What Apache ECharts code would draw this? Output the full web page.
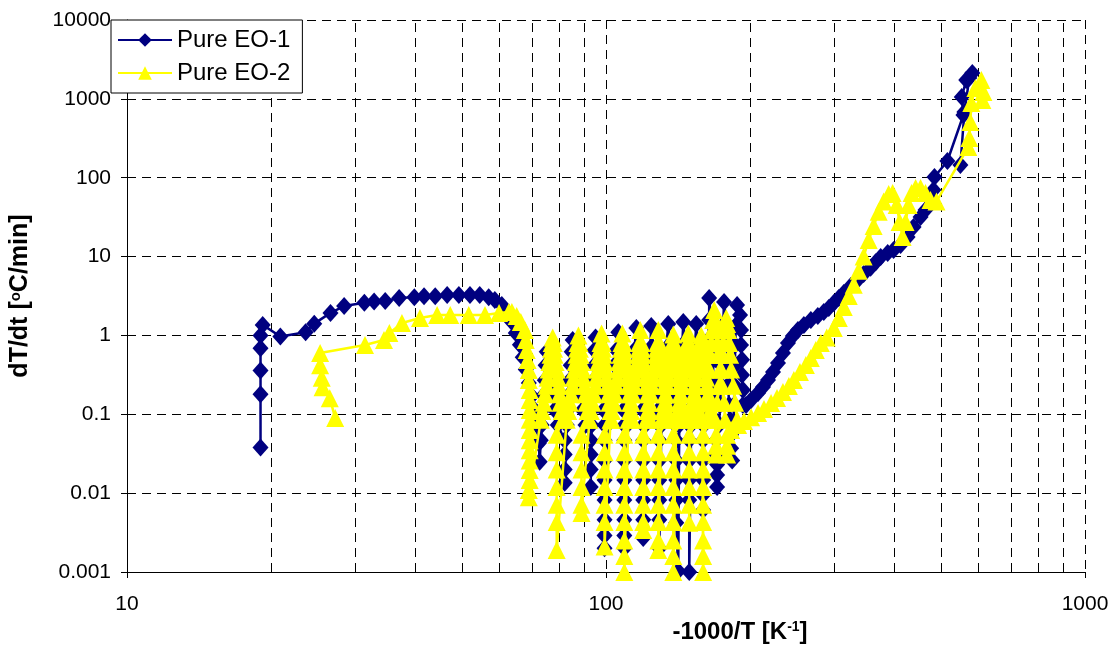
<!DOCTYPE html>
<html>
<head>
<meta charset="utf-8">
<script src="https://cdn.jsdelivr.net/npm/echarts@6/dist/echarts.min.js"></script>
<style>
html,body{margin:0;padding:0;background:#fff;}
#chart{width:1117px;height:649px;}
</style>
</head>
<body>
<div id="chart"></div>
<script>
const FONT = "'Liberation Sans', Arial, Helvetica, sans-serif";

const xTickLabels = ['10', '100', '1000'];
const yTickLabels = ['0.001', '0.01', '0.1', '1', '10', '100', '1000', '10000'];
const xMinorGrid = [20, 30, 40, 50, 60, 70, 80, 90, 200, 300, 400, 500, 600, 700, 800, 900];
const seriesNames = ['Pure EO-1', 'Pure EO-2'];

// ---------- Pure EO-1 ----------
const eo1Start = [[19.0,0.038],[19.0,0.18],[19.0,0.36],[19.0,0.69],[19.0,1.0],[19.2,1.36],[20.9,0.97],[23.6,1.1],[24.6,1.41],[26.6,1.93],[28.4,2.36],[31.3,2.6],[32.8,2.7],[34.6,2.74],[37.0,2.98],[39.8,3.06],[41.7,3.15],[44.0,3.15],[46.6,3.25],[49.3,3.25],[52.0,3.25],[54.5,3.25],[56.9,3.06],[58.6,2.81]];
const eo1Drop = [[60.6,2.43],[62.1,2.0],[63.6,1.48],[64.8,1.07],[66.1,0.76],[67.0,0.53],[68.0,0.37],[69.0,0.25],[70.0,0.17],[71.0,0.113],[71.7,0.073],[72.4,0.043],[72.7,0.025]];
const eo1Osc = [
 [73.1,0.047],[73.4,0.073],[73.8,0.113],[74.1,0.176],[74.5,0.27],[74.8,0.42],[75.2,0.62],[75.9,0.42],[76.6,0.27],[77.4,0.176],[78.1,0.113],[79.3,0.073],
 [82.0,0.047],[82.0,0.031],[82.0,0.02],[82.0,0.0135],[82.8,0.073],[83.2,0.113],[83.6,0.176],[84.0,0.27],[84.4,0.42],[84.8,0.62],[85.2,0.875],[86.0,0.62],[86.8,0.42],[87.6,0.27],[88.5,0.176],[89.3,0.113],[90.6,0.073],
 [92.9,0.047],[92.9,0.031],[92.9,0.02],[92.9,0.012],[93.3,0.073],[93.7,0.113],[94.2,0.176],[94.2,0.27],[94.6,0.42],[94.6,0.65],[95.1,0.94],[96.0,0.65],[96.9,0.42],[97.9,0.27],[98.4,0.176],[98.8,0.113],[99.3,0.073],
 [99.3,0.047],[99.3,0.026],[99.3,0.0147],[99.3,0.0082],[99.3,0.0046],[99.3,0.0029],[99.3,0.002],[100.7,0.073],[101.7,0.113],[102.7,0.176],[103.7,0.27],[104.1,0.42],[105.1,0.65],[106.1,1.1],[107.2,0.65],[107.7,0.42],[108.2,0.27],[108.7,0.176],[108.7,0.113],[109.2,0.073],
 [109.2,0.047],[109.2,0.026],[109.2,0.0147],[109.2,0.0082],[109.2,0.0046],[109.2,0.0029],[109.2,0.002],[110.8,0.073],[111.4,0.113],[112.4,0.176],[113.0,0.27],[114.1,0.42],[114.6,0.65],[115.7,1.24],[116.8,0.65],[117.4,0.42],[117.9,0.27],[118.5,0.176],[119.1,0.113],[119.6,0.073],
 [119.6,0.047],[119.6,0.026],[119.6,0.0147],[119.6,0.0082],[119.6,0.0046],[119.6,0.0027],[120.8,0.073],[121.4,0.113],[122.0,0.176],[122.6,0.27],[123.1,0.42],[123.7,0.69],[124.3,1.32],[125.5,0.69],[126.8,0.42],[127.4,0.27],[128.0,0.176],[128.6,0.113],[129.2,0.073],
 [129.2,0.047],[129.2,0.026],[129.2,0.0147],[129.2,0.0082],[129.2,0.0046],[129.2,0.002],[130.5,0.073],[131.1,0.113],[131.7,0.176],[132.3,0.27],[133.0,0.42],[133.6,0.69],[134.9,1.4],[136.2,0.69],[136.9,0.42],[137.5,0.27],[138.2,0.176],[138.8,0.113],[139.5,0.073],
 [140.2,0.047],[140.2,0.026],[140.2,0.0147],[140.2,0.0082],[140.2,0.0042],[141.5,0.00103],[142.2,0.073],[142.2,0.113],[142.9,0.176],[143.6,0.27],[143.6,0.42],[144.3,0.756],[145.0,1.48],[146.4,0.756],[147.1,0.42],[147.8,0.27],[148.5,0.176],[149.2,0.113],[149.2,0.073],
 [149.2,0.047],[149.2,0.026],[149.2,0.0147],[149.2,0.0082],[149.2,0.001],[150.6,0.073],[151.3,0.113],[152.1,0.176],[152.8,0.27],[152.8,0.42],[153.5,0.756],[154.3,1.4],[155.8,0.756],[156.5,0.42],[157.3,0.27],[158.0,0.176],[158.8,0.113],[159.5,0.073],
 [159.5,0.047],[159.5,0.026],[159.5,0.0147],[159.5,0.0095],[159.5,0.0061],[160.3,0.073],[161.1,0.113],[161.9,0.176],[161.9,0.27],[162.6,0.49],[163.4,0.875],[164.2,1.57],[164.2,2.98],[165.8,1.57],[166.6,0.875],[167.4,0.49],[167.4,0.27],[168.2,0.152],[169.0,0.085],
 [169.8,0.047],[169.8,0.031],[170.6,0.023],[170.6,0.017],[170.6,0.012],[172.2,0.073],[173.0,0.131],[173.9,0.235],[173.9,0.42],[174.7,0.756],[175.6,1.36],[176.4,2.65],[178.2,1.36],[179.0,0.756],[179.9,0.42],[179.9,0.235],[180.7,0.131],[181.6,0.085],
 [182.5,0.055],[182.5,0.037],[183.4,0.026],[184.3,0.073],[185.2,0.131],[185.2,0.235],[186.0,0.42],[186.0,0.756],[186.9,1.36],[187.8,2.43],[190.5,1.82],[191.4,1.17],[191.4,0.756],[192.3,0.49],[192.3,0.315],[193.2,0.203],[193.2,0.131]
];
const eo1Rise = [[196.1,0.131],[200.9,0.152],[207.7,0.186],[212.7,0.222],[217.9,0.272],[223.2,0.344],[228.6,0.447],[234.1,0.6],[239.8,0.8],[245.5,0.98],[251.6,1.17],[258.9,1.36],[267.7,1.57],[276.8,1.76],[284.9,1.98],[291.8,2.23],[298.9,2.58],[306.2,2.98],[313.6,3.45],[324.3,4.24],[335.3,5.05],[345.0,6.0],[356.8,7.2],[365.6,8.5],[374.5,9.9],[387.3,11.1],[398.5,12.1],[412.1,14.0],[426.2,17.7],[438.6,23.7],[453.6,31.7],[464.5,39],[475.8,52],[482.7,70],[485.0,102]];
const eo1Top = [[516.1,163],[557.4,624],[553.0,1057],[565.0,1733],[581.8,2128],[573.5,1839],[560.0,681],[549.4,145]];

// ---------- Pure EO-2 ----------
const eo2Start = [[27.2,0.09],[26.5,0.16],[25.6,0.22],[25.5,0.29],[25.3,0.42],[25.3,0.6],[31.4,0.756],[34.4,0.875],[35.3,1.07],[37.5,1.44],[40.9,1.66],[44.4,1.82],[47.3,1.82],[51.7,1.82],[55.9,1.82],[59.8,1.93],[62.7,1.98]];
const eo2Drop = [[63.6,1.98],[65.1,1.76],[66.4,1.48],[67.7,1.17],[68.0,0.875],[68.3,0.654],[68.6,0.488],[69.0,0.365],[69.0,0.272],[69.3,0.203],[69.3,0.152],[69.3,0.113],[69.3,0.085],[69.3,0.063],[69.3,0.047],[69.3,0.035],[69.3,0.026],[69.3,0.0197],[69.3,0.0147],[69.0,0.011],[69.0,0.0089]];
const eo2Osc = [
 [73.1,0.085],[73.6,0.11],[74.1,0.14],[74.6,0.18],[75.2,0.23],[75.5,0.29],[75.9,0.37],[76.2,0.46],[76.6,0.57],[76.8,0.68],[77.0,0.8],[77.4,0.94],[77.8,0.8],[77.9,0.68],[78.1,0.57],[78.5,0.46],[78.9,0.37],[79.3,0.29],[79.7,0.23],[80.0,0.18],[80.4,0.14],[80.8,0.11],[81.2,0.085],
 [78.9,0.055],[78.9,0.033],[78.9,0.02],[78.9,0.012],[78.9,0.0071],[78.9,0.0043],[78.9,0.0019],
 [82.8,0.085],[83.4,0.11],[84.0,0.14],[84.6,0.18],[85.2,0.23],[85.6,0.29],[86.0,0.37],[86.4,0.46],[86.8,0.57],[87.0,0.68],[87.2,0.8],[87.6,1.0],[88.0,0.8],[88.2,0.68],[88.5,0.57],[88.9,0.46],[89.3,0.37],[89.7,0.29],[90.2,0.23],[90.6,0.18],[91.1,0.14],[91.5,0.11],[91.9,0.085],
 [88.9,0.055],[88.9,0.033],[88.9,0.02],[88.9,0.012],[88.9,0.0071],[88.9,0.0056],
 [92.4,0.085],[93.0,0.11],[93.7,0.14],[94.4,0.18],[95.1,0.23],[95.5,0.29],[96.0,0.37],[96.4,0.46],[96.9,0.57],[97.1,0.68],[97.4,0.8],[97.9,1.06],[98.4,0.8],[98.6,0.68],[98.8,0.57],[99.3,0.46],[99.8,0.37],[100.2,0.29],[100.7,0.23],[101.2,0.18],[101.7,0.14],[102.2,0.11],[102.7,0.085],
 [99.3,0.055],[99.3,0.033],[99.3,0.02],[99.3,0.012],[99.3,0.0071],[99.3,0.0043],[99.3,0.0021],
 [102.2,0.085],[102.9,0.11],[103.7,0.14],[104.4,0.18],[105.1,0.23],[105.6,0.29],[106.1,0.37],[106.6,0.46],[107.2,0.57],[107.4,0.68],[107.7,0.8],[108.2,1.06],[108.7,0.8],[108.9,0.68],[109.2,0.57],[109.7,0.46],[110.3,0.37],[110.8,0.29],[111.4,0.23],[111.9,0.18],[112.4,0.14],[112.9,0.11],[113.5,0.085],
 [109.2,0.055],[109.2,0.033],[109.2,0.02],[109.2,0.012],[109.2,0.0071],[109.2,0.0043],[109.2,0.0025],[109.2,0.0016],[109.2,0.001],
 [111.4,0.085],[112.2,0.11],[113.0,0.14],[113.8,0.18],[114.6,0.23],[115.1,0.29],[115.7,0.37],[116.2,0.46],[116.8,0.57],[117.1,0.68],[117.4,0.8],[117.9,1.17],[118.5,0.8],[118.8,0.68],[119.1,0.57],[119.6,0.46],[120.2,0.37],[120.8,0.29],[121.4,0.23],[122.0,0.18],[122.6,0.14],[123.1,0.11],[123.7,0.085],
 [119.6,0.055],[119.6,0.033],[119.6,0.02],[119.6,0.012],[119.6,0.0071],[119.6,0.0043],[119.6,0.0034],
 [121.4,0.085],[122.2,0.11],[123.1,0.14],[124.0,0.18],[124.9,0.23],[125.5,0.29],[126.2,0.37],[126.8,0.46],[127.4,0.57],[127.7,0.68],[128.0,0.8],[128.6,1.17],[129.2,0.8],[129.5,0.68],[129.9,0.57],[130.5,0.46],[131.1,0.37],[131.7,0.29],[132.3,0.23],[133.0,0.18],[133.6,0.14],[134.3,0.11],[134.9,0.085],
 [128.6,0.055],[128.6,0.033],[128.6,0.02],[128.6,0.012],[128.6,0.0071],[128.6,0.0043],[128.6,0.0025],[128.6,0.0019],
 [130.5,0.085],[131.4,0.11],[132.3,0.14],[133.3,0.18],[134.3,0.23],[134.9,0.29],[135.5,0.37],[136.2,0.46],[136.9,0.57],[137.2,0.68],[137.5,0.8],[138.2,1.03],[138.8,0.8],[139.2,0.68],[139.5,0.57],[140.2,0.46],[140.9,0.37],[141.5,0.29],[142.2,0.23],[142.9,0.18],[143.6,0.14],[144.3,0.11],[145.0,0.085],
 [138.2,0.055],[138.2,0.033],[138.2,0.02],[138.2,0.012],[138.2,0.0071],[138.2,0.0043],[138.2,0.0025],[138.2,0.0016],[138.2,0.001],
 [140.2,0.085],[141.2,0.11],[142.2,0.14],[143.2,0.18],[144.3,0.23],[145.0,0.29],[145.7,0.37],[146.4,0.46],[147.1,0.57],[147.4,0.68],[147.8,0.8],[148.5,1.06],[149.2,0.8],[149.5,0.68],[149.9,0.57],[150.6,0.46],[151.3,0.37],[152.1,0.29],[152.8,0.23],[153.5,0.18],[154.3,0.14],[155.0,0.11],[155.8,0.085],
 [149.2,0.055],[149.2,0.033],[149.2,0.02],[149.2,0.012],[149.2,0.0071],[149.2,0.0042],
 [149.2,0.085],[150.3,0.11],[151.3,0.14],[152.4,0.18],[153.5,0.23],[154.3,0.29],[155.0,0.37],[155.8,0.46],[156.5,0.57],[156.9,0.68],[157.3,0.8],[158.0,1.0],[158.8,0.8],[159.1,0.68],[159.5,0.57],[160.3,0.46],[161.1,0.37],[161.9,0.29],[162.6,0.23],[163.4,0.18],[164.2,0.14],[165.0,0.11],[165.8,0.085],
 [159.5,0.055],[159.5,0.033],[159.5,0.02],[159.5,0.012],[159.5,0.0071],[159.5,0.0043],[159.5,0.0025],[159.5,0.0016],[159.5,0.001],
 [158.8,0.085],[161.1,0.14],[162.6,0.23],[164.2,0.37],[165.0,0.57],[165.8,0.8],[166.6,1.17],[167.4,1.57],[168.2,2.1],[169.0,1.57],[169.8,1.17],[170.6,0.8],[171.4,0.57],[173.0,0.37],[174.7,0.23],[176.4,0.14],[177.3,0.085],
 [169.8,0.055],[169.8,0.04],[169.8,0.031],
 [169.0,0.085],[170.6,0.14],[172.2,0.23],[173.9,0.37],[174.7,0.57],[175.6,0.8],[176.4,1.17],[177.3,1.45],[178.2,1.66],[179.0,1.4],[179.9,1.17],[180.7,0.8],[181.6,0.57],[182.5,0.37],[184.3,0.23],[186.0,0.14],[187.8,0.085],
 [179.0,0.055],[179.0,0.04],[179.0,0.031]
];
const eo2Rise = [[182.5,0.063],[188.7,0.073],[194.2,0.082],[200.9,0.092],[207.7,0.104],[213.7,0.117],[221.1,0.139],[227.5,0.161],[234.1,0.192],[240.9,0.229],[246.7,0.272],[254.0,0.344],[261.4,0.422],[267.7,0.518],[274.2,0.654],[280.8,0.80],[289.0,0.94],[298.9,1.24],[306.2,1.66],[313.6,2.3],[321.2,3.17],[329.0,4.4],[336.9,6.6],[345.0,10.0],[353.5,16.2],[362.0,24.4],[370.9,37],[379.9,50],[389.2,62],[396.6,64],[404.3,45],[410.1,27.5],[416.1,17.7],[422.1,27.5],[428.2,45],[434.4,64],[443.0,74],[453.6,74],[464.5,64],[475.8,52],[489.7,50]];
const eo2Top = [[570.7,245],[573.5,319],[576.3,509],[579.0,886],[590.3,1374],[607.7,1733],[613.5,1222],[610.6,967]];

const eo1Data = [].concat(eo1Start, eo1Drop, eo1Osc, eo1Rise, eo1Top);
const eo2Data = [].concat(eo2Start, eo2Drop, eo2Osc, eo2Rise, eo2Top);

function fmt(v) { return String(Number(v.toPrecision(6))); }

const chart = echarts.init(document.getElementById('chart'), null, {renderer: 'canvas'});
chart.setOption({
  animation: false,
  backgroundColor: '#ffffff',
  textStyle: {fontFamily: FONT},
  grid: {left: 124, right: 32, top: 20, bottom: 77, containLabel: false},
  legend: {
    data: seriesNames,
    orient: 'vertical',
    left: 111, top: 20,
    backgroundColor: '#ffffff',
    borderColor: '#000000', borderWidth: 1,
    padding: [8, 12, 8, 6],
    itemGap: 9,
    itemWidth: 54, itemHeight: 17,
    textStyle: {fontSize: 24, color: '#000', fontFamily: FONT}
  },
  xAxis: {
    type: 'log', logBase: 10, min: 10, max: 1000, interval: 1,
    axisLine: {show: true, onZero: false, lineStyle: {color: '#000', width: 1}},
    axisTick: {show: true, length: 6, lineStyle: {color: '#000'}},
    axisLabel: {fontSize: 21, color: '#000', margin: 22, fontFamily: FONT,
      formatter: v => xTickLabels.indexOf(fmt(v)) >= 0 ? fmt(v) : ''},
    splitLine: {show: true, lineStyle: {color: '#000', type: [9, 6], width: 1}}
  },
  yAxis: {
    type: 'log', logBase: 10, min: 0.001, max: 10000, interval: 1,
    name: '{b|dT/dt [}{s|o}{b|C/min]}',
    nameLocation: 'middle', nameGap: 94, nameRotate: 90,
    nameTextStyle: {rich: {
      b: {fontSize: 25, fontWeight: 'bold', color: '#000', fontFamily: FONT},
      s: {fontSize: 15, fontWeight: 'bold', color: '#000', fontFamily: FONT, verticalAlign: 'top'}
    }},
    axisLine: {show: true, onZero: false, lineStyle: {color: '#000', width: 1}},
    axisTick: {show: true, length: 6, lineStyle: {color: '#000'}},
    axisLabel: {fontSize: 21, color: '#000', margin: 16, fontFamily: FONT,
      formatter: v => yTickLabels.indexOf(fmt(v)) >= 0 ? fmt(v) : ''},
    splitLine: {show: true, lineStyle: {color: '#000', type: [9, 6], width: 1}}
  },
  graphic: [{
    type: 'text', x: 740, y: 632, z: 10,
    style: {
      text: '{b|-1000/T [K}{s|-1}{b|]}',
      align: 'center', verticalAlign: 'middle',
      rich: {
        b: {fontSize: 24, fontWeight: 'bold', fill: '#000', fontFamily: FONT},
        s: {fontSize: 14, fontWeight: 'bold', fill: '#000', fontFamily: FONT, verticalAlign: 'top'}
      }
    }
  }],
  series: [
    {
      name: 'grid-minor', type: 'line', data: [], z: 1, silent: true,
      markLine: {
        silent: true, symbol: 'none', z: 1, animation: false,
        label: {show: false},
        lineStyle: {color: '#000', type: [9, 6], width: 1},
        data: xMinorGrid.map(v => ({xAxis: v}))
      }
    },
    {
      name: seriesNames[0], type: 'line', data: eo1Data, clip: false,
      symbol: 'diamond', symbolSize: [16, 18],
      itemStyle: {color: '#000080'},
      lineStyle: {color: '#000080', width: 2.5},
      z: 3
    },
    {
      name: seriesNames[1], type: 'line', data: eo2Data, clip: false,
      symbol: 'triangle', symbolSize: [18, 18],
      itemStyle: {color: '#ffff00'},
      lineStyle: {color: '#ffff00', width: 2.5},
      z: 4
    }
  ]
});
</script>
</body>
</html>
